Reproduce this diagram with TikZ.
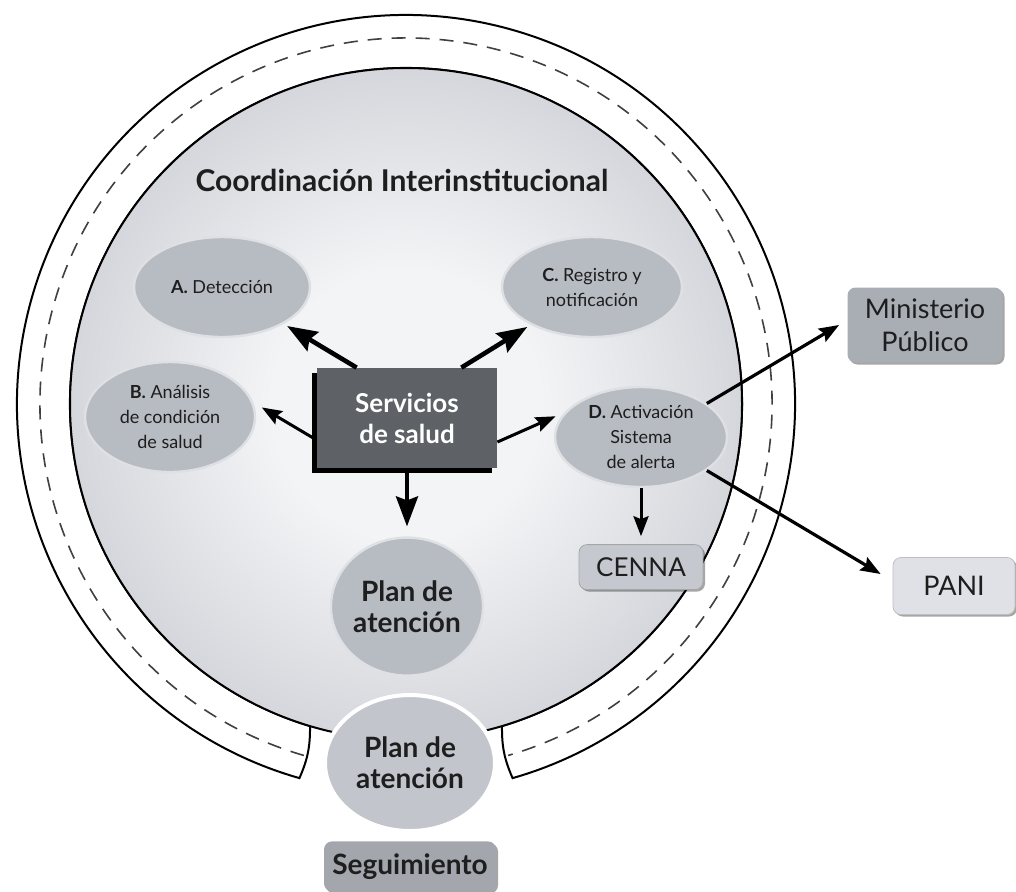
\documentclass[tikz,border=0pt]{standalone}
\usepackage{fontspec}
\setmainfont{Lato}
\usetikzlibrary{
  shapes.geometric,
  arrows.meta,
  shadows,
  positioning
}
\definecolor{circClaro}{HTML}{F3F4F6}
\definecolor{circMedio}{HTML}{C6C9CF}
\definecolor{circOscuro}{HTML}{858990}
\definecolor{ovalgris}{HTML}{B7BBC2}
\definecolor{servgris}{HTML}{5E6266}
\definecolor{cajaMP}{HTML}{A9ADB4}
\definecolor{cajaCenna}{HTML}{C5C8CE}
\definecolor{cajaPani}{HTML}{DFE1E6}
\definecolor{cajaSeg}{HTML}{A3A7AD}
\definecolor{texto}{HTML}{1E1E1E}
\pgfdeclareradialshading{fondo}{\pgfpoint{0bp}{0bp}}{%
  color(0bp)=(circClaro); color(10bp)=(circClaro);
  color(32bp)=(circMedio); color(50bp)=(circOscuro)}
\tikzset{%
  borde/.style={draw=black, line width=1pt}, % lineas del anillo
  guiones/.style={draw=black!75, line width=0.8pt, dash pattern=on 7pt off 5pt},
  ovalo/.style={ellipse, fill=ovalgris, draw=white!55!ovalgris, line width=1.2pt,
    inner sep=0pt, align=center, text=texto, font=\fontsize{9}{12.5}\selectfont},
  grande/.style={font=\fontsize{14}{15.5}\selectfont\bfseries},
  caja/.style={rectangle, rounded corners=4pt, align=center, text=texto, inner sep=0pt,
    drop shadow={shadow xshift=1pt, shadow yshift=-1pt, fill=black, opacity=.35}},
  servicio/.style={rectangle, fill=servgris, text=white, align=center,
    minimum width=90pt, minimum height=50pt, font=\fontsize{13}{15.5}\selectfont\bfseries,
    drop shadow={shadow xshift=-2.5pt, shadow yshift=-2.5pt, fill=black, opacity=1}},
  flecha/.style={-{Stealth[length=15pt, width=11pt, inset=2pt]}, line width=2.3pt},
  flechita/.style={-{Stealth[length=10pt, width=7.5pt, inset=1.5pt]}, line width=1.5pt}
}

\begin{document}
\begin{tikzpicture}[x=0.5pt, y=-0.5pt]
  \useasboundingbox (0,0) rectangle (1016,891);
  % anillo exterior con la abertura abajo
  \begin{scope}[shift={(406,404)}]
    \draw[borde, fill=white] (105.9:389) arc[start angle=105.9, end angle=434.1, radius=389]
      to[bend left=12] (73.4:336) arc[start angle=73.4, end angle=-253.4, radius=336]
      to[bend left=12] (105.9:389) -- cycle;
    \draw[guiones] (106.2:366) arc[start angle=106.2, end angle=433.8, radius=366];
    \shade[shading=fondo] (0,0) circle[radius=336];
    \draw[borde] (0,0) circle[radius=336];
  \end{scope}

  \node[text=texto, font=\fontsize{15}{17}\selectfont\bfseries] (coord) at (402,180)
    {Coordinación Interinstitucional};

  \node[servicio] (serv) at (407,418) {Servicios\\de salud};
  \node[ovalo, minimum width=88pt, minimum height=50pt] (det) at (222,287) {\textbf{A.} Detección};
  \node[ovalo, minimum width=85pt, minimum height=55pt] (ana) at (170,417) {\textbf{B.} Análisis\\de condición\\de salud};
  \node[ovalo, minimum width=90pt, minimum height=50pt] (reg) at (592,287) {\textbf{C.} Registro y\\notificación};
  \node[ovalo, minimum width=86pt, minimum height=50pt] (act) at (641,437) {\textbf{D.} Activación\\Sistema\\de alerta};
  \node[ovalo, grande, minimum width=67pt, minimum height=69pt, below=34pt of serv] (plan) {Plan de\\atención};
  \node[caja, fill=cajaCenna, draw=black!35, minimum width=62pt, minimum height=22.5pt,
    font=\fontsize{13}{15}\selectfont, below=28pt of act] (cenna) {CENNA};
  \node[caja, fill=cajaMP, minimum width=77.5pt, minimum height=37.5pt,
    font=\fontsize{13.5}{16.5}\selectfont] (mp) at (925,325) {Ministerio\\Público};
  \node[caja, fill=cajaPani, draw=black!25, minimum width=61pt, minimum height=28.5pt,
    font=\fontsize{13.5}{15}\selectfont] (pani) at (954,586) {PANI};

  \node[ovalo, grande, fill=ovalgris!85!white, draw=white, line width=2pt,
    minimum width=85pt, minimum height=68pt] (plan2) at (410,763) {Plan de\\atención};
  \node[caja, fill=cajaSeg, minimum width=86pt, minimum height=25pt,
    font=\fontsize{14}{15}\selectfont\bfseries, below=4pt of plan2] (seg) {Seguimiento};

  % flechas
  \draw[flecha, shorten >=2pt] ([xshift=20pt]serv.north west) -- (det);
  \draw[flecha, shorten >=2pt] ([xshift=-18pt]serv.north east) -- (reg);
  \draw[flechita, shorten >=5pt] ([yshift=-11pt]serv.west) -- (ana.10);
  \draw[flechita, shorten >=5pt] ([yshift=-12pt]serv.east) -- (act.162);
  \draw[flecha, line width=2pt, shorten >=5pt] (serv.south) -- (plan.north);
  \draw[flechita, line width=1.6pt] (act.27) -- ([xshift=-4pt]mp.west);
  \draw[flechita, line width=1.6pt] (act.-27) -- ([xshift=-6pt, yshift=6pt]pani.west);
  \draw[flechita, shorten >=4pt] (act.south) -- (cenna.north);
\end{tikzpicture}
\end{document}
